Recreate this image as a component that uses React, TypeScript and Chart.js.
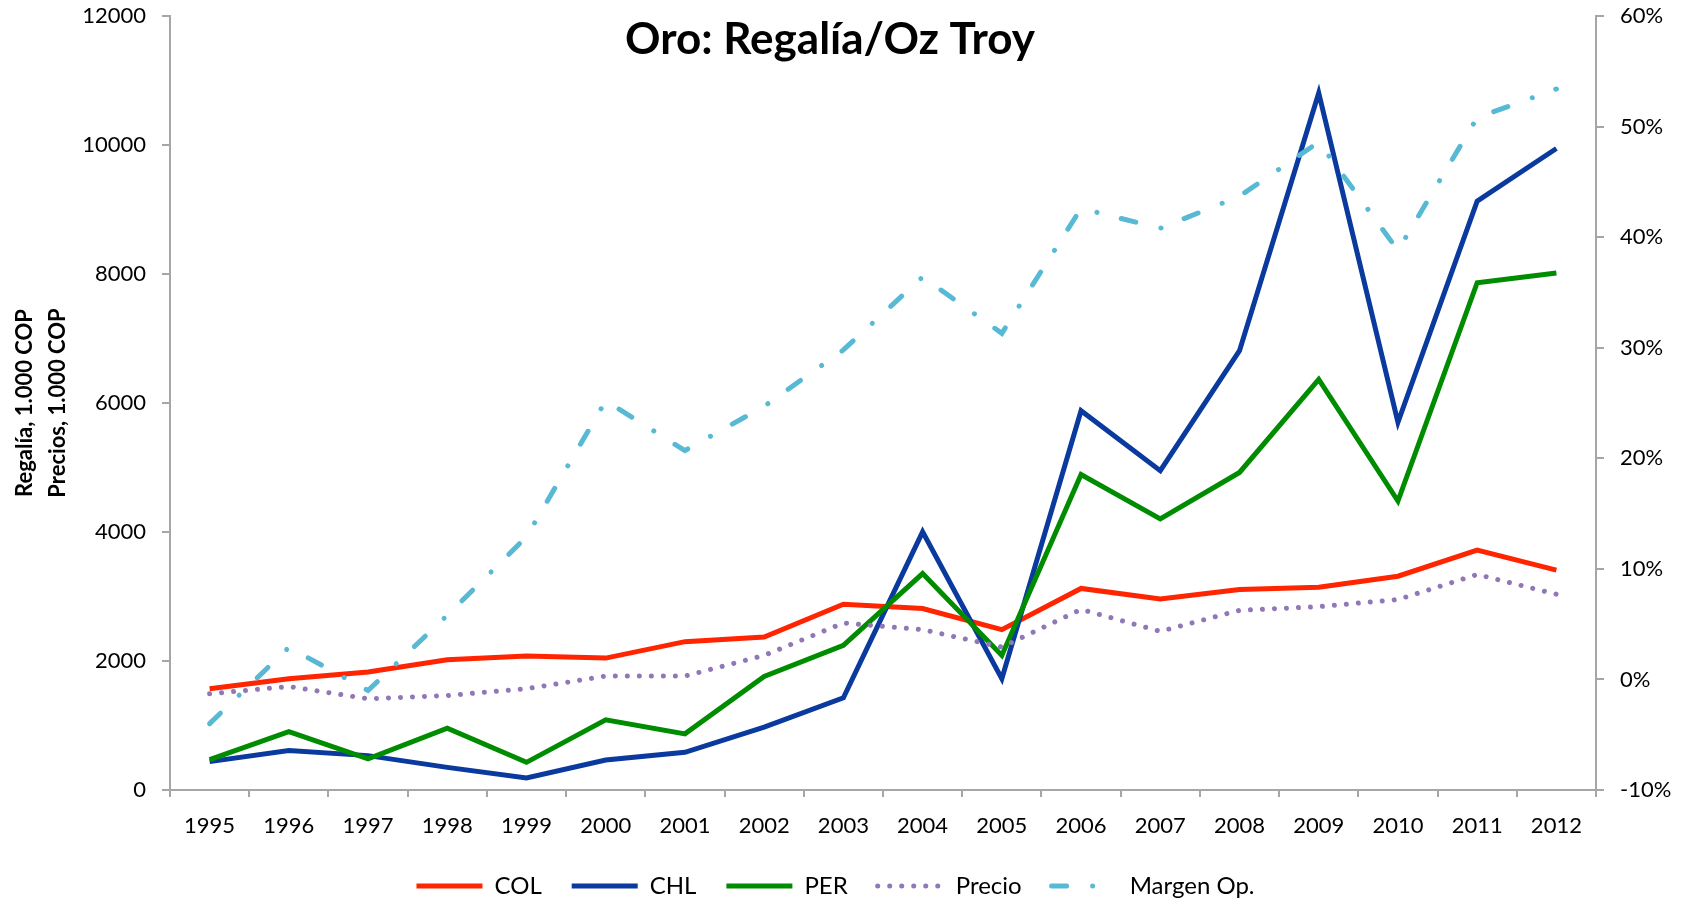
import React, { useEffect, useRef } from 'react';
import { Chart, registerables } from 'chart.js';

Chart.register(...registerables);

const chartTitle = 'Oro: Regalía/Oz Troy';
const leftAxisTitle = ['Regalía, 1.000 COP', 'Precios, 1.000 COP'];

const years = ['1995', '1996', '1997', '1998', '1999', '2000', '2001', '2002', '2003', '2004', '2005', '2006', '2007', '2008', '2009', '2010', '2011', '2012'];

const colValues = [1570, 1725, 1830, 2020, 2077, 2045, 2300, 2371, 2880, 2813, 2486, 3125, 2960, 3108, 3145, 3315, 3720, 3408];
const chlValues = [440, 611, 533, 351, 186, 466, 585, 975, 1430, 4003, 1725, 5880, 4950, 6811, 10806, 5700, 9130, 9946];
const perValues = [471, 906, 482, 958, 429, 1088, 870, 1761, 2242, 3356, 2087, 4890, 4202, 4923, 6367, 4480, 7865, 8014];
const precioValues = [1492, 1605, 1414, 1465, 1570, 1766, 1766, 2087, 2589, 2486, 2216, 2800, 2460, 2786, 2842, 2953, 3341, 3035];
const margenValues = [-4.0, 2.9, -1.0, 5.8, 12.9, 25.2, 20.7, 24.7, 29.8, 36.4, 31.3, 42.6, 40.8, 43.7, 48.6, 38.8, 50.8, 53.4];

const leftTicks = [0, 2000, 4000, 6000, 8000, 10000, 12000];
const rightTicks = [-10, 0, 10, 20, 30, 40, 50, 60];

const AXIS = '#A6A6A6';
const FONT = 'Lato';

const titlePlugin = {
  id: 'customTitle',
  afterDraw(chart: any) {
    const ctx = chart.ctx;
    ctx.save();
    ctx.font = `bold 44px ${FONT}`;
    ctx.fillStyle = '#000';
    ctx.textAlign = 'center';
    ctx.textBaseline = 'middle';
    ctx.fillText(chartTitle, 830, 40);
    ctx.restore();
  },
};

export default function App() {
  const ref = useRef<HTMLCanvasElement | null>(null);

  useEffect(() => {
    if (!ref.current) return;
    Chart.defaults.font.family = FONT;
    Chart.defaults.color = '#000';
    const chart = new Chart(ref.current, {
      type: 'line',
      data: {
        labels: years,
        datasets: [
          { label: 'COL', data: colValues, borderColor: '#FF2500', backgroundColor: '#FF2500', borderWidth: 5, pointRadius: 0, pointStyle: 'line', yAxisID: 'y', order: 5 },
          { label: 'CHL', data: chlValues, borderColor: '#0A3A9E', backgroundColor: '#0A3A9E', borderWidth: 5, pointRadius: 0, pointStyle: 'line', yAxisID: 'y', order: 4 },
          { label: 'PER', data: perValues, borderColor: '#008C00', backgroundColor: '#008C00', borderWidth: 5, pointRadius: 0, pointStyle: 'line', yAxisID: 'y', order: 3 },
          { label: 'Precio', data: precioValues, borderColor: '#9077B5', backgroundColor: '#9077B5', borderWidth: 5, pointRadius: 0, pointStyle: 'line', borderDash: [0.01, 12], borderCapStyle: 'round', yAxisID: 'y', order: 2 },
          { label: 'Margen Op.', data: margenValues, borderColor: '#57B9D3', backgroundColor: '#57B9D3', borderWidth: 5, pointRadius: 0, pointStyle: 'line', borderDash: [15, 26, 0.01, 25], borderCapStyle: 'round', yAxisID: 'y1', order: 1 },
        ] as any,
      },
      options: {
        animation: false,
        responsive: true,
        maintainAspectRatio: false,
        layout: { padding: { top: 16, bottom: -6, left: 0, right: 17 } },
        plugins: {
          title: { display: false },
          tooltip: { enabled: false },
          legend: {
            position: 'bottom',
            labels: {
              usePointStyle: true,
              pointStyleWidth: 66,
              padding: 30,
              font: { size: 24 },
              color: '#000',
              sort: (a: any, b: any) => a.datasetIndex - b.datasetIndex,
              generateLabels: (c: any) => {
                const items = Chart.defaults.plugins.legend.labels.generateLabels(c);
                return items.map((it: any) => {
                  const ds: any = c.data.datasets[it.datasetIndex];
                  return {
                    ...it,
                    pointStyle: 'line',
                    lineWidth: ds.borderWidth,
                    strokeStyle: ds.borderColor,
                    lineDash: ds.borderDash || [],
                    lineCap: ds.borderCapStyle || 'butt',
                    lineDashOffset: 0,
                  };
                });
              },
            },
          },
        },
        scales: {
          x: {
            type: 'category',
            offset: true,
            grid: { offset: true, drawOnChartArea: false, tickLength: 7, color: AXIS, lineWidth: 2 },
            border: { color: AXIS, width: 2 },
            ticks: { font: { size: 22 }, color: '#000', padding: 16, maxRotation: 0, autoSkip: false },
            afterFit: (s: any) => { s.height = 54; s.paddingLeft = 0; s.paddingRight = 0; },
          },
          y: {
            type: 'linear',
            position: 'left',
            min: leftTicks[0],
            max: leftTicks[leftTicks.length - 1],
            ticks: { stepSize: leftTicks[1] - leftTicks[0], font: { size: 22 }, color: '#000', padding: 16, callback: (v: any) => String(v) },
            grid: { drawOnChartArea: false, tickLength: 8, color: AXIS, lineWidth: 2 },
            border: { color: AXIS, width: 2 },
            title: { display: true, text: leftAxisTitle, font: { size: 22, weight: 'bold', lineHeight: 1.5 }, color: '#000', padding: { top: 8, bottom: 0 } },
            afterFit: (s: any) => { s.width = 170; s.paddingTop = 0; s.paddingBottom = 0; },
          },
          y1: {
            type: 'linear',
            position: 'right',
            min: rightTicks[0],
            max: rightTicks[rightTicks.length - 1],
            ticks: { stepSize: rightTicks[1] - rightTicks[0], font: { size: 22 }, color: '#000', padding: 16, callback: (v: any) => `${v}%` },
            grid: { drawOnChartArea: false, tickLength: 8, color: AXIS, lineWidth: 2 },
            border: { color: AXIS, width: 2 },
            afterFit: (s: any) => { s.width = 75; s.paddingTop = 0; s.paddingBottom = 0; },
          },
        },
      } as any,
      plugins: [titlePlugin],
    });
    return () => chart.destroy();
  }, []);

  return (
    <div style={{ position: 'fixed', left: 0, top: 0, width: 1688, height: 902, background: '#fff' }}>
      <canvas ref={ref} />
    </div>
  );
}
